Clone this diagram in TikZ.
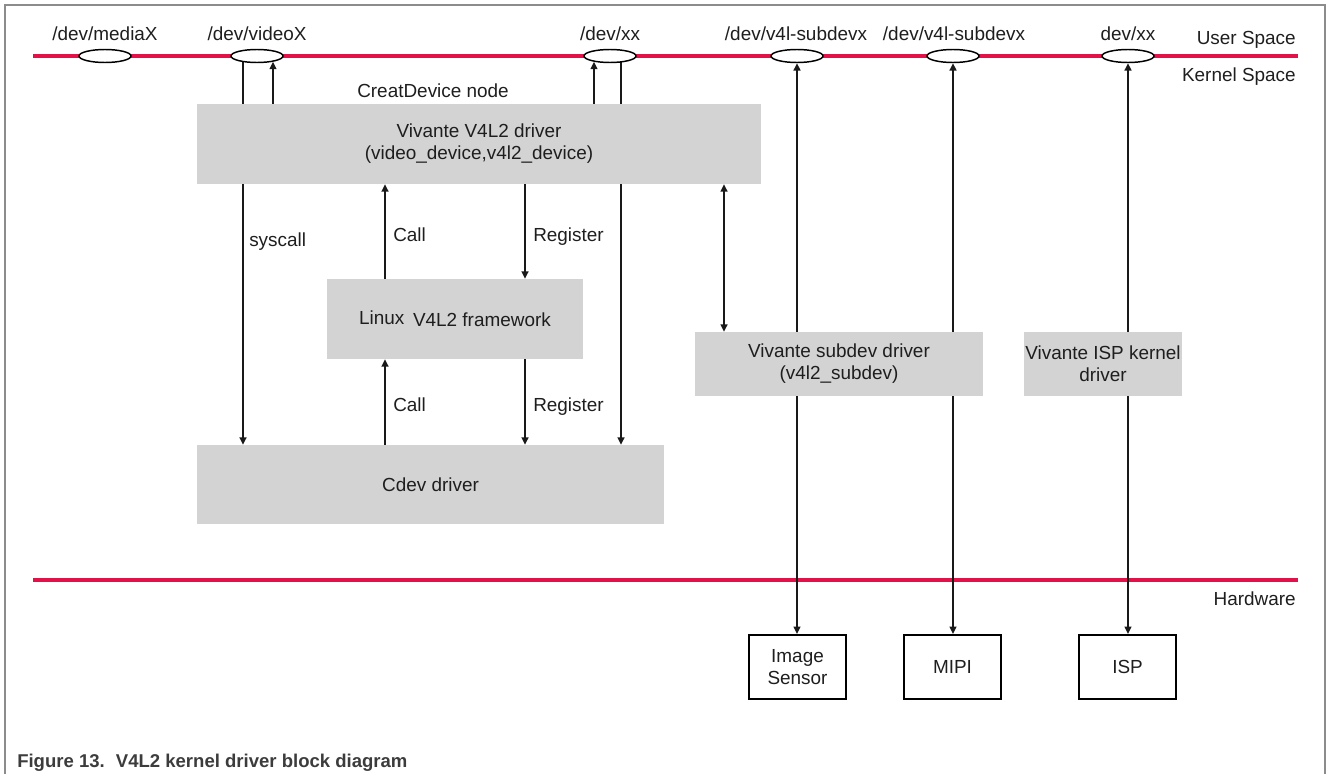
\documentclass[tikz,border=0pt]{standalone}
\usepackage{fontspec}
\setmainfont{Liberation Sans}
\usetikzlibrary{arrows.meta,backgrounds,shapes.geometric}
\definecolor{redline}{RGB}{226,18,72}
\definecolor{boxgray}{RGB}{211,211,211}
\definecolor{txt}{RGB}{30,30,30}
\definecolor{framegray}{RGB}{140,140,140}
\definecolor{captxt}{RGB}{60,60,60}
\begin{document}
\begin{tikzpicture}[x=0.75pt,y=-0.75pt,
  every node/.style={text=txt, font=\fontsize{14.2pt}{16.5pt}\selectfont, inner sep=0pt},
  gbox/.style={fill=boxgray, align=center},
  hwbox/.style={draw=black, line width=1.6pt, fill=white, align=center, minimum width=72.75pt, minimum height=48pt},
  port/.style={ellipse, draw=black, line width=1.1pt, fill=white, minimum width=39pt, minimum height=9.75pt},
  conn/.style={draw=black!90, line width=1.1pt},
  arrowend/.style={-{Triangle[length=5.5pt,width=5.2pt]}},
  arrowboth/.style={{Triangle[length=5.5pt,width=5.2pt]}-{Triangle[length=5.5pt,width=5.2pt]}},
  layer/.style={draw=redline, line width=2.6pt}
]
\useasboundingbox (0,0) rectangle (1328,774);

% frame
\draw[framegray, line width=1.1pt] (5,774) -- (5,5) -- (1325,5) -- (1325,774);

% column coordinates
\coordinate (cA) at (243,0);
\coordinate (cB) at (273,0);
\coordinate (cC) at (385,0);
\coordinate (cD) at (525,0);
\coordinate (cE) at (594,0);
\coordinate (cF) at (621,0);
\coordinate (cG) at (724,0);

% ports
\node[port] (media) at (105,56) {};
\node[port] (vid) at (257,56) {};
\node[port] (xx) at (610,56) {};
\node[port] (sub1) at (797,56) {};
\node[port] (sub2) at (953,56) {};
\node[port] (ispdev) at (1128,56) {};

\node[anchor=base] (lmedia) at (105,41) {/dev/mediaX};
\node[anchor=base] (lvid) at (257,41) {/dev/videoX};
\node[anchor=base] (lxx) at (610,41) {/dev/xx};
\node[anchor=base] (lsub1) at (796,41) {/dev/v4l-subdevx};
\node[anchor=base] (lsub2) at (954,41) {/dev/v4l-subdevx};
\node[anchor=base] (lisp) at (1128,41) {dev/xx};

\node[anchor=base east] (user) at (1296,45) {User Space};
\node[anchor=base east] (kern) at (1296,82) {Kernel Space};
\node[anchor=base east] (hw) at (1296,605) {Hardware};
\node[anchor=base west] (creat) at (357,98) {CreatDevice node};

% boxes
\node[gbox, minimum width=423pt, minimum height=60pt] (v4l2) at (479,144) {Vivante V4L2 driver\\(video\_device,v4l2\_device)};
\node[gbox, minimum width=192pt, minimum height=60pt] (fw) at (455,319) {\raisebox{1.5pt}{Linux}\hspace{2.5pt} V4L2 framework};
\node[gbox, minimum width=350.25pt, minimum height=59.25pt] (cdev) at (430.5,484.5) {Cdev driver};
\node[gbox, minimum width=216pt, minimum height=48pt] (subdev) at (839,364) {Vivante subdev driver\\(v4l2\_subdev)};
\node[gbox, minimum width=118.5pt, minimum height=48pt] (ispk) at (1103,364) {Vivante ISP kernel\\driver};

\node[hwbox] (sensor) at (797.5,667) {Image\\Sensor};
\node[hwbox] (mipi) at (952.5,667) {MIPI};
\node[hwbox] (isphw) at (1127.5,667) {ISP};

% connector labels
\node[anchor=base west] (lsys) at (249,246) {syscall};
\node[anchor=base west] (lcall1) at (393,241) {Call};
\node[anchor=base west] (lreg1) at (533,241) {Register};
\node[anchor=base west] (lcall2) at (393,411) {Call};
\node[anchor=base west] (lreg2) at (533,411) {Register};

% caption
\node[anchor=base west, text=captxt, font=\fontsize{13.9pt}{16pt}\selectfont\bfseries] (cap) at (17,767) {Figure 13.\hspace{0.6em}V4L2 kernel driver block diagram};

\begin{scope}[on background layer]
  \draw[layer] (33,56) -- (1298,56);
  \draw[layer] (33,580) -- (1298,580);
  \draw[conn, arrowend] (vid.center -| cA) -- (cdev.north -| cA);
  \draw[conn, arrowend, shorten >=-1pt] (v4l2.north -| cB) -- (vid.south -| cB);
  \draw[conn, arrowend, shorten >=-1pt] (v4l2.north -| cE) -- (xx.south -| cE);
  \draw[conn, arrowend] (xx.center -| cF) -- (cdev.north -| cF);
  \draw[conn, arrowend] (fw.north -| cC) -- (v4l2.south -| cC);
  \draw[conn, arrowend] (v4l2.south -| cD) -- (fw.north -| cD);
  \draw[conn, arrowend] (cdev.north -| cC) -- (fw.south -| cC);
  \draw[conn, arrowend] (fw.south -| cD) -- (cdev.north -| cD);
  \draw[conn, arrowboth] (v4l2.south -| cG) -- (subdev.north -| cG);
  \draw[conn, arrowboth] (sub1.south) -- (sensor.north -| sub1.south);
  \draw[conn, arrowboth] (sub2.south) -- (mipi.north -| sub2.south);
  \draw[conn, arrowboth] (ispdev.south) -- (isphw.north -| ispdev.south);
\end{scope}
\end{tikzpicture}
\end{document}
